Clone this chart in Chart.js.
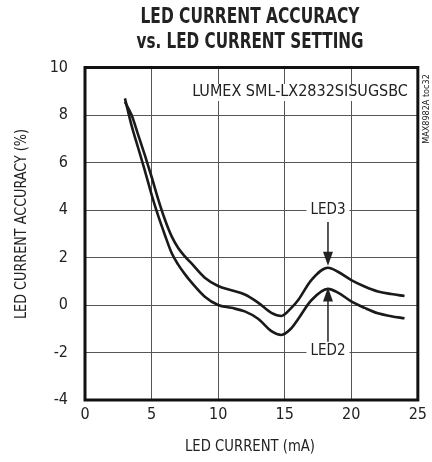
<!DOCTYPE html>
<html>
<head>
<meta charset="utf-8">
<script src="https://cdn.jsdelivr.net/npm/chart.js@4.4.1/dist/chart.umd.min.js"></script>
<style>
  html, body { margin: 0; padding: 0; background: #fff; }
</style>
</head>
<body>
<canvas id="chart" width="432" height="462"></canvas>
<script>
// values
const currentMa = [3, 3.5, 4, 4.5, 5, 5.5, 6, 6.5, 7, 7.5, 8, 9, 10, 11, 12, 13, 14, 14.75, 15.5, 16, 17, 18.25, 19, 20, 21, 22, 23, 24];
const led3Accuracy = [8.55, 8.0, 7.15, 6.3, 5.4, 4.45, 3.6, 2.9, 2.4, 2.05, 1.75, 1.15, 0.8, 0.62, 0.44, 0.1, -0.33, -0.46, -0.12, 0.2, 1.05, 1.57, 1.4, 1.05, 0.78, 0.57, 0.46, 0.38];
const led2Accuracy = [8.7, 7.55, 6.6, 5.65, 4.65, 3.75, 2.95, 2.2, 1.7, 1.3, 0.95, 0.35, 0.0, -0.12, -0.27, -0.58, -1.1, -1.26, -0.98, -0.6, 0.2, 0.68, 0.52, 0.15, -0.12, -0.35, -0.47, -0.56];
const xTicks = [0, 5, 10, 15, 20, 25];
const yTicks = [-4, -2, 0, 2, 4, 6, 8, 10];

const NARROW = '"Liberation Sans Narrow", "Arial Narrow", "DejaVu Sans Condensed", sans-serif';
const INK = '#222';

function toPoints(ys) {
  return currentMa.map((x, i) => ({ x, y: ys[i] }));
}

// text squeezed to a given width, like the condensed face of the original
function squeezed(ctx, text, cx, cy, width, rotate) {
  const w = ctx.measureText(text).width;
  ctx.save();
  ctx.translate(cx, cy);
  if (rotate) ctx.rotate(-Math.PI / 2);
  ctx.scale(Math.min(1, width / w), 1);
  ctx.textAlign = 'center';
  ctx.textBaseline = 'middle';
  ctx.fillText(text, 0, 0);
  ctx.restore();
}

// titles, frame, labels and arrows
const notes = {
  id: 'notes',
  afterDraw(chart) {
    const { ctx, chartArea: a, scales: { x, y } } = chart;
    ctx.save();
    ctx.fillStyle = INK;

    ctx.font = 'bold 21px ' + NARROW;
    squeezed(ctx, 'LED CURRENT ACCURACY', 250, 18, 219);
    squeezed(ctx, 'vs. LED CURRENT SETTING', 250, 43, 227);

    ctx.font = '16px ' + NARROW;
    squeezed(ctx, 'LED CURRENT (mA)', 250, 447, 130);
    squeezed(ctx, 'LED CURRENT ACCURACY (%)', 22, 224, 190, true);

    ctx.strokeStyle = '#111';
    ctx.lineWidth = 3;
    ctx.strokeRect(a.left, a.top, a.width, a.height);

    ctx.font = '16px ' + NARROW;
    ctx.textBaseline = 'middle';

    // part name, top right
    const part = 'LUMEX SML-LX2832SISUGSBC';
    const pw = ctx.measureText(part).width;
    ctx.fillStyle = '#fff';
    ctx.fillRect(a.right - 10 - pw - 3, 84, pw + 6, 17);
    ctx.fillStyle = INK;
    ctx.textAlign = 'right';
    ctx.fillText(part, a.right - 10, 92);

    function tag(text, vx, vy) {
      const px = x.getPixelForValue(vx), py = y.getPixelForValue(vy);
      const w = ctx.measureText(text).width;
      ctx.fillStyle = '#fff';
      ctx.fillRect(px - w / 2 - 4, py - 8, w + 8, 16);
      ctx.fillStyle = INK;
      ctx.textAlign = 'center';
      ctx.fillText(text, px, py);
    }
    function arrow(vx, fromY, toY) {
      const px = x.getPixelForValue(vx);
      const y0 = y.getPixelForValue(fromY), y1 = y.getPixelForValue(toY);
      const dir = y1 > y0 ? 1 : -1;
      ctx.strokeStyle = INK;
      ctx.lineWidth = 1.5;
      ctx.beginPath();
      ctx.moveTo(px, y0);
      ctx.lineTo(px, y1 - dir * 10);
      ctx.stroke();
      ctx.fillStyle = INK;
      ctx.beginPath();
      ctx.moveTo(px, y1);
      ctx.lineTo(px - 5, y1 - dir * 14);
      ctx.lineTo(px + 5, y1 - dir * 14);
      ctx.closePath();
      ctx.fill();
    }
    ctx.font = '15px ' + NARROW;
    tag('LED3', 18.25, 4.0);
    arrow(18.25, 3.5, 1.65);
    tag('LED2', 18.25, -1.95);
    arrow(18.25, -1.55, 0.74);

    // document ref, vertical at the right edge
    ctx.save();
    ctx.translate(427, 109);
    ctx.rotate(-Math.PI / 2);
    ctx.font = '9px ' + NARROW;
    ctx.textAlign = 'center';
    ctx.fillStyle = INK;
    ctx.fillText('MAX8982A toc32', 0, 0);
    ctx.restore();

    ctx.restore();
  }
};

const lineStyle = {
  borderColor: '#1a1a1a',
  borderWidth: 2.6,
  pointRadius: 0,
  fill: false,
  cubicInterpolationMode: 'monotone',
};

new Chart(document.getElementById('chart'), {
  type: 'line',
  data: {
    datasets: [
      { label: 'LED3', data: toPoints(led3Accuracy), ...lineStyle },
      { label: 'LED2', data: toPoints(led2Accuracy), ...lineStyle },
    ],
  },
  options: {
    responsive: false,
    animation: false,
    events: [],
    layout: { padding: { left: 0, right: 14, top: 67.5, bottom: 0 } },
    plugins: {
      legend: { display: false },
      tooltip: { enabled: false },
    },
    scales: {
      x: {
        type: 'linear',
        min: 0,
        max: 25,
        afterBuildTicks: (s) => { s.ticks = xTicks.map((v) => ({ value: v })); },
        afterFit: (s) => { s.height = 62; },
        ticks: { color: INK, padding: 5, font: { family: NARROW, size: 16 } },
        grid: { color: '#555', lineWidth: 1, drawTicks: false },
        border: { display: false },
      },
      y: {
        type: 'linear',
        min: -4,
        max: 10,
        afterBuildTicks: (s) => { s.ticks = yTicks.map((v) => ({ value: v })); },
        afterFit: (s) => { s.width = 85; },
        ticks: { color: INK, padding: 17, font: { family: NARROW, size: 16 } },
        grid: { color: '#555', lineWidth: 1, drawTicks: false },
        border: { display: false },
      },
    },
  },
  plugins: [notes],
});
</script>
</body>
</html>
